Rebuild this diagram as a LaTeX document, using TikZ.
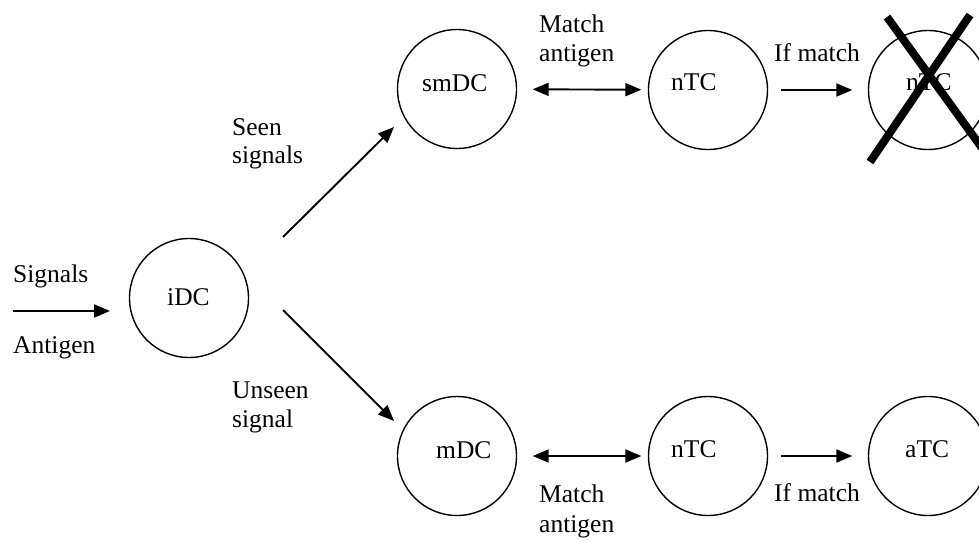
\documentclass[tikz,border=0pt]{standalone}
\usepackage{fontspec}
\setmainfont{Liberation Serif}
\usetikzlibrary{arrows.meta}
\begin{document}
\begin{tikzpicture}[x=1pt,y=-1pt,
  cell/.style={draw,circle,line width=1.4pt,minimum size=119pt,inner sep=0pt},
  txt/.style={anchor=base west,inner sep=0pt,font=\fontsize{25.5}{29}\selectfont},
  arr/.style={line width=1.9pt,-{Triangle[length=16pt,width=13pt]}},
  darr/.style={line width=1.9pt,{Triangle[length=16pt,width=13pt]}-{Triangle[length=16pt,width=13pt]}},
  crossline/.style={line width=8pt}]
\useasboundingbox (0,0) rectangle (979,541);
\clip (0,0) rectangle (979,541);
% cells
\node[cell] (iDC) at (189,298) {};
\node[cell] (smDC) at (457,89) {};
\node[cell] (nTCa) at (708,90) {};
\node[cell] (nTCx) at (928,90) {};
\node[cell] (mDC) at (457,456) {};
\node[cell] (nTCb) at (708,456) {};
\node[cell] (aTC) at (928,456) {};
% cell labels
\node[txt] (tiDC) at (167,305) {iDC};
\node[txt] (tsmDC) at (422,91) {smDC};
\node[txt] (tnTCa) at (671,90) {nTC};
\node[txt] (tnTCx) at (906,90) {nTC};
\node[txt] (tmDC) at (436,458) {mDC};
\node[txt] (tnTCb) at (671,457) {nTC};
\node[txt] (taTC) at (905,457) {aTC};
% input
\coordinate (inA) at (13,311);
\coordinate (inB) at (110,311);
\draw[arr] (inA) -- (inB);
\node[txt] (lsig) at (13,282) {Signals};
\node[txt] (lant) at (13,353) {Antigen};
% diagonals
\coordinate (upA) at (283,237);
\coordinate (upB) at (394,127);
\coordinate (dnA) at (283,310);
\coordinate (dnB) at (394,421);
\draw[arr] (upA) -- (upB);
\draw[arr] (dnA) -- (dnB);
\node[txt] (lseen1) at (232,135) {Seen};
\node[txt] (lseen2) at (232,163) {signals};
\node[txt] (lun1) at (232,398) {Unseen};
\node[txt] (lun2) at (232,427) {signal};
% horizontal connectors
\draw[darr,shorten <=15.5pt,shorten >=6.5pt] (smDC) -- (nTCa);
\draw[arr,shorten <=12.5pt,shorten >=15.5pt] (nTCa) -- (nTCx);
\draw[darr,shorten <=15.5pt,shorten >=6.5pt] (mDC) -- (nTCb);
\draw[arr,shorten <=12.5pt,shorten >=15.5pt] (nTCb) -- (aTC);
\node[txt] (lm1) at (539,32) {Match};
\node[txt] (lm2) at (539,61) {antigen};
\node[txt] (lif1) at (774,61) {If match};
\node[txt] (lm3) at (539,502) {Match};
\node[txt] (lm4) at (539,532) {antigen};
\node[txt] (lif2) at (774,501) {If match};
% cross
\draw[crossline] (887,17) -- (1003,177);
\draw[crossline] (970,15) -- (870,162);
\end{tikzpicture}
\end{document}
